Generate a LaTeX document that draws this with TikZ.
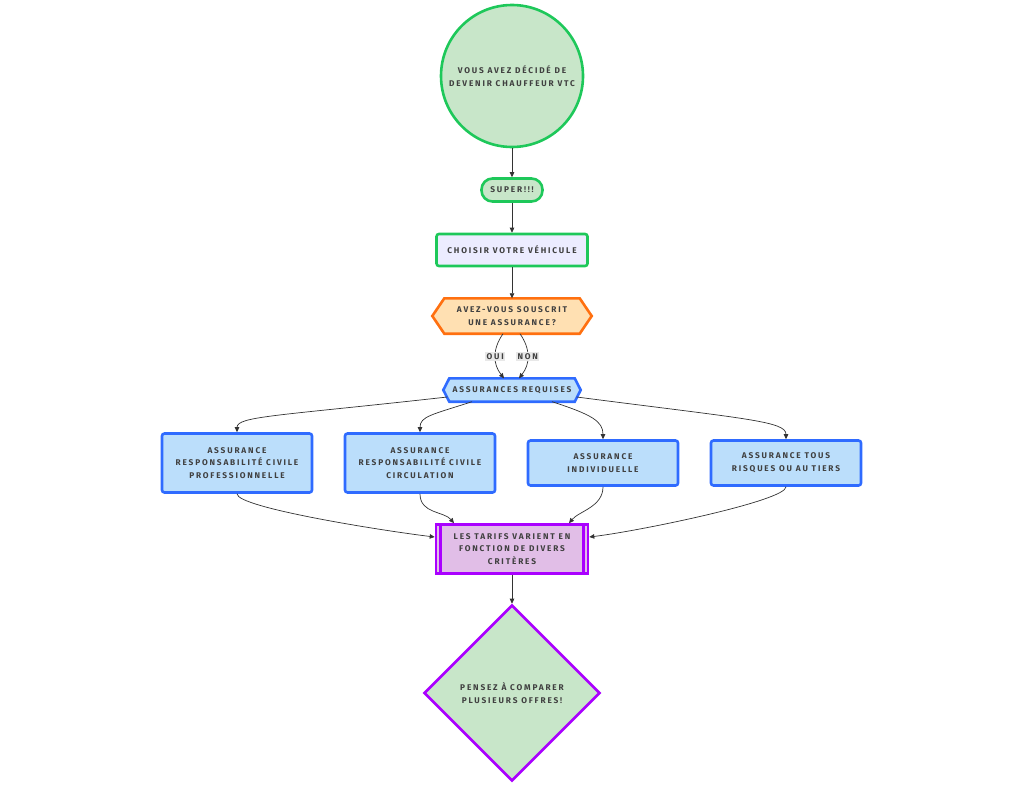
\documentclass[tikz,border=0pt]{standalone}
\usepackage{fontspec}
\setmainfont{Fira Sans}[LetterSpace=22]
\usetikzlibrary{shapes.geometric,arrows.meta,calc}
\definecolor{txt}{HTML}{404040}
\definecolor{gstroke}{HTML}{1EC85A}
\definecolor{gfill}{HTML}{C8E6C9}
\definecolor{lav}{HTML}{ECECFF}
\definecolor{ostroke}{HTML}{FF7010}
\definecolor{ofill}{HTML}{FFE0B2}
\definecolor{bstroke}{HTML}{2F6BFF}
\definecolor{bfill}{HTML}{BBDEFB}
\definecolor{pstroke}{HTML}{AA00FF}
\definecolor{pfill}{HTML}{E1BEE7}
\definecolor{edge}{HTML}{333333}
\definecolor{lblbg}{HTML}{E8E8E8}
\tikzset{
  lbl/.style={font=\fontsize{8.3}{12.8}\selectfont\bfseries, text=txt, align=center},
  gbox/.style={lbl, draw=gstroke, line width=2.6pt},
  bbox/.style={lbl, draw=bstroke, fill=bfill, line width=2.6pt, rounded corners=2.5pt, minimum width=150pt},
  conn/.style={draw=edge, line width=0.7pt, -{Triangle[length=5pt,width=4.5pt]}},
  elbl/.style={lbl, fill=lblbg, inner sep=1.5pt},
}
\begin{document}
\begin{tikzpicture}[x=1pt,y=-1pt]
\useasboundingbox (0,0) rectangle (1024,787);
% nodes
\node[gbox, circle, fill=gfill, minimum size=142pt, inner sep=0pt] (start) at (512,76) {VOUS AVEZ DÉCIDÉ DE\\DEVENIR CHAUFFEUR VTC};
\node[gbox, fill=gfill, rounded corners=11pt, minimum width=61pt, minimum height=23pt, inner sep=2pt] (super) at (512,190) {SUPER!!!};
\node[gbox, fill=lav, rounded corners=2.5pt, minimum width=151pt, minimum height=32pt] (veh) at (512,250) {CHOISIR VOTRE VÉHICULE};
% hexagon 1
\node[lbl, minimum width=159pt, minimum height=35pt, inner sep=0pt] (ask) at (512,316) {AVEZ-VOUS SOUSCRIT\\UNE ASSURANCE?};
\draw[line width=2.6pt, draw=ostroke, fill=ofill, line join=miter]
  ([xshift=12pt]ask.north west) -- ([xshift=-12pt]ask.north east) -- (ask.east)
  -- ([xshift=-12pt]ask.south east) -- ([xshift=12pt]ask.south west) -- (ask.west) -- cycle;
\node[lbl] at (ask) {AVEZ-VOUS SOUSCRIT\\UNE ASSURANCE?};
% hexagon 2
\node[lbl, minimum width=137pt, minimum height=23pt, inner sep=0pt] (req) at (512,390) {ASSURANCES REQUISES};
\draw[line width=2.6pt, draw=bstroke, fill=bfill, line join=miter]
  ([xshift=6pt]req.north west) -- ([xshift=-6pt]req.north east) -- (req.east)
  -- ([xshift=-6pt]req.south east) -- ([xshift=6pt]req.south west) -- (req.west) -- cycle;
\node[lbl] at (req) {ASSURANCES REQUISES};
% four boxes
\node[bbox, minimum height=59pt] (a1) at (237,463) {ASSURANCE\\RESPONSABILITÉ CIVILE\\PROFESSIONNELLE};
\node[bbox, minimum height=59pt] (a2) at (420,463) {ASSURANCE\\RESPONSABILITÉ CIVILE\\CIRCULATION};
\node[bbox, minimum height=45pt] (a3) at (603,463) {ASSURANCE\\INDIVIDUELLE};
\node[bbox, minimum height=45pt] (a4) at (786,463) {ASSURANCE TOUS\\RISQUES OU AU TIERS};
% subroutine
\node[lbl, draw=pstroke, fill=pfill, line width=2.6pt, minimum width=152pt, minimum height=49pt] (tar) at (512,549) {LES TARIFS VARIENT EN\\FONCTION DE DIVERS\\CRITÈRES};
\draw[draw=pstroke, line width=2.6pt] ([xshift=6pt]tar.north west) -- ([xshift=6pt]tar.south west);
\draw[draw=pstroke, line width=2.6pt] ([xshift=-6pt]tar.north east) -- ([xshift=-6pt]tar.south east);
% diamond
\node[lbl, diamond, aspect=1, draw=pstroke, fill=gfill, line width=2.6pt, minimum width=176pt, minimum height=176pt, inner sep=0pt] (cmp) at (512,693) {PENSEZ À COMPARER\\PLUSIEURS OFFRES!};
% edges
\draw[conn] (start.south) -- (super.north);
\draw[conn] (super.south) -- (veh.north);
\draw[conn] (veh.south) -- (ask.north);
\draw[conn] ([xshift=-9pt]ask.south) .. controls +(-11,16) and +(-11,-14) .. ([xshift=-8pt]req.north) node[pos=0.5, elbl] {OUI};
\draw[conn] ([xshift=8pt]ask.south) .. controls +(11,16) and +(11,-14) .. ([xshift=7pt]req.north) node[pos=0.5, elbl] {NON};
\draw[conn] ([xshift=4pt,yshift=-7pt]req.west) .. controls +(-170,19) and +(0,-16) .. (a1.north);
\draw[conn] ([xshift=-40pt]req.south) .. controls +(-40,13) and +(0,-16) .. (a2.north);
\draw[conn] ([xshift=40pt]req.south) .. controls +(40,13) and +(0,-18) .. (a3.north);
\draw[conn] ([xshift=-4pt,yshift=-7pt]req.east) .. controls +(170,22) and +(0,-18) .. (a4.north);
\draw[conn] (a1.south) .. controls +(0,14) and +(-50,-6) .. ([yshift=12pt]tar.west);
\draw[conn] (a2.south) .. controls +(0,20) and +(-10,-12) .. ([xshift=-58pt]tar.north);
\draw[conn] (a3.south) .. controls +(0,20) and +(10,-12) .. ([xshift=57pt]tar.north);
\draw[conn] (a4.south) .. controls +(0,14) and +(50,-6) .. ([yshift=12pt]tar.east);
\draw[conn] (tar.south) -- (cmp.north);
\end{tikzpicture}
\end{document}
